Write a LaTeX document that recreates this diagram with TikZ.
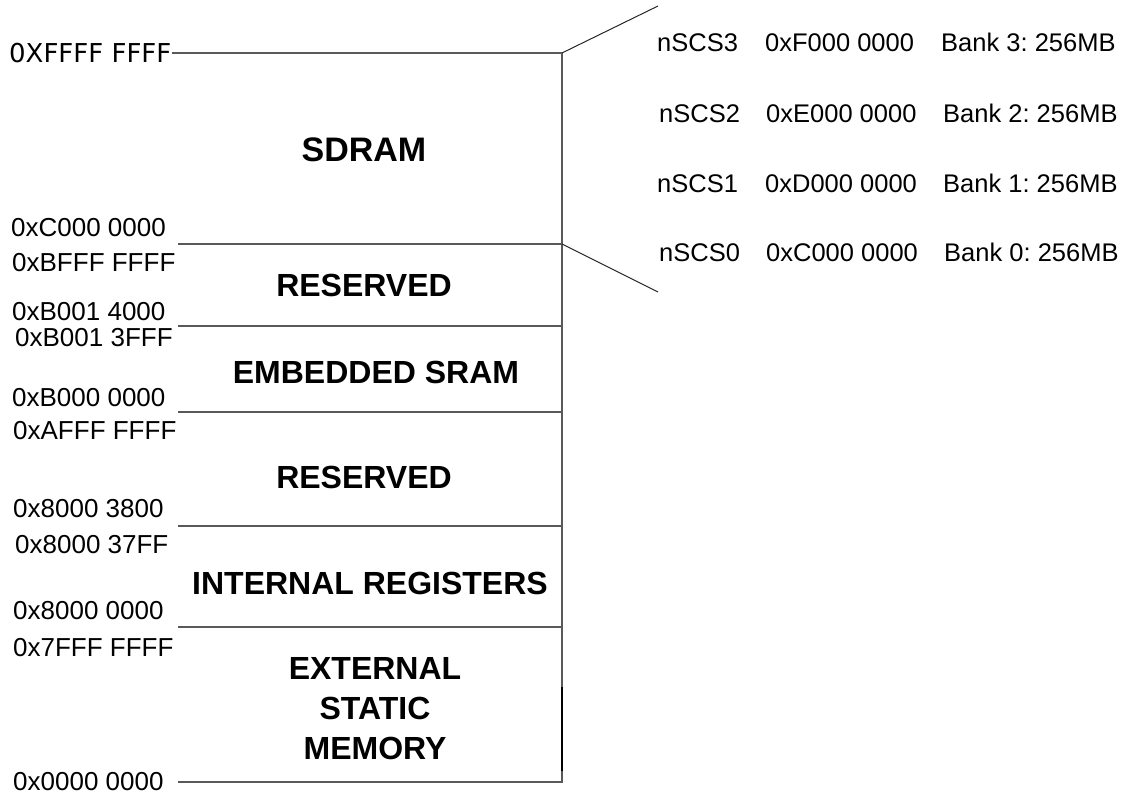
\documentclass[tikz,border=0pt]{standalone}
\usepackage{fontspec}
\setmainfont{Liberation Sans}
\newfontfamily\topfont{DejaVu Sans}
\frenchspacing
\begin{document}
\begin{tikzpicture}[x=1pt,y=-1pt,
  addr/.style={anchor=west, inner sep=0pt, font=\fontsize{26}{28}\selectfont},
  bank/.style={anchor=base west, inner sep=0pt, font=\frenchspacing\fontsize{25.5}{27}\selectfont},
  region/.style={inner sep=0pt, align=center, font=\bfseries\fontsize{32}{40}\selectfont},
  rule/.style={draw=black!65, line width=1.1pt},
  fan/.style={draw=black!85, line width=1pt}]
\useasboundingbox (0,0) rectangle (1131,799);
% corner coordinates of the map
\coordinate (tr) at (562,53);
\coordinate (c0l) at (178,244);
\coordinate (c0r) at (562,244);
\coordinate (b1l) at (178,326);
\coordinate (b1r) at (562,326);
\coordinate (b0l) at (178,412);
\coordinate (b0r) at (562,412);
\coordinate (r3l) at (178,526);
\coordinate (r3r) at (562,526);
\coordinate (r0l) at (178,627);
\coordinate (r0r) at (562,627);
\coordinate (zl) at (178,782);
\coordinate (zr) at (562,782);
\coordinate (fan1) at (658,6);
\coordinate (fan2) at (658,292);
\coordinate (thk1) at (562,687);
\coordinate (thk2) at (562,771);

% address labels
\node[addr, font=\topfont\fontsize{26}{28}\selectfont] (aF) at (9,53) {0XFFFF FFFF};
\node[addr] (aC) at (11,228) {0xC000 0000};
\node[addr] (aBF) at (12,263) {0xBFFF FFFF};
\node[addr] (aB14) at (12,312) {0xB001 4000};
\node[addr] (aB13) at (15,338) {0xB001 3FFF};
\node[addr] (aB0) at (12,398) {0xB000 0000};
\node[addr] (aAF) at (13,431) {0xAFFF FFFF};
\node[addr] (a838) at (13,509) {0x8000 3800};
\node[addr] (a837) at (15,545) {0x8000 37FF};
\node[addr] (a80) at (13,611) {0x8000 0000};
\node[addr] (a7F) at (13,648) {0x7FFF FFFF};
\node[addr] (a00) at (13,782) {0x0000 0000};

% lines
\draw[rule] (aF.east) -- (tr) -- (zr) -- (zl);
\draw[rule] (c0l) -- (c0r);
\draw[rule] (b1l) -- (b1r);
\draw[rule] (b0l) -- (b0r);
\draw[rule] (r3l) -- (r3r);
\draw[rule] (r0l) -- (r0r);
\draw[black, line width=1.6pt] (thk1) -- (thk2);
\draw[fan] (tr) -- (fan1);
\draw[fan] (c0r) -- (fan2);

% region names
\node[region, font=\bfseries\fontsize{34}{40}\selectfont] (sdram) at (364,150) {SDRAM};
\node[region] (res1) at (364,285) {RESERVED};
\node[region] (esram) at (376,372) {EMBEDDED SRAM};
\node[region] (res2) at (364,477) {RESERVED};
\node[region] (ireg) at (370,583) {INTERNAL REGISTERS};
\node[region] (ext) at (375,709) {EXTERNAL\\STATIC\\MEMORY};

% SDRAM banks
\node[bank] (cs3) at (657,52) {nSCS3};
\node[bank] (ad3) at (765,52) {0xF000 0000};
\node[bank] (bk3) at (941,52) {Bank 3: 256MB};
\node[bank] (cs2) at (659,123) {nSCS2};
\node[bank] (ad2) at (766,123) {0xE000 0000};
\node[bank] (bk2) at (943,123) {Bank 2: 256MB};
\node[bank] (cs1) at (657,193) {nSCS1};
\node[bank] (ad1) at (765,193) {0xD000 0000};
\node[bank] (bk1) at (943,193) {Bank 1: 256MB};
\node[bank] (cs0) at (659,262) {nSCS0};
\node[bank] (ad0) at (766,262) {0xC000 0000};
\node[bank] (bk0) at (944,262) {Bank 0: 256MB};
\end{tikzpicture}
\end{document}
